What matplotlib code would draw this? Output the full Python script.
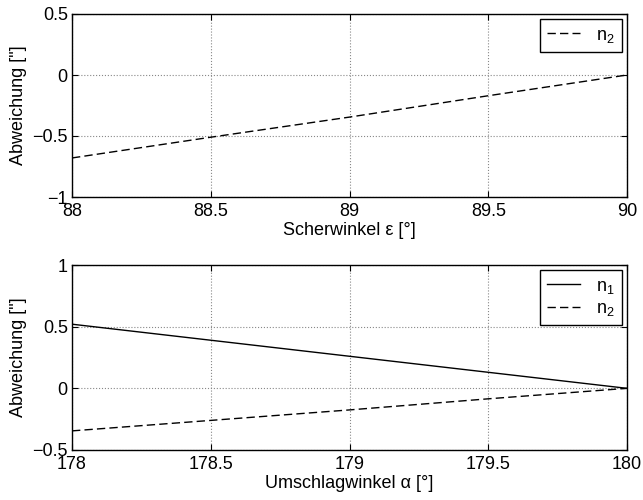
import numpy as np
import matplotlib
matplotlib.use("Agg")
import matplotlib.pyplot as plt

plt.rcParams['font.family'] = ['Liberation Sans', 'DejaVu Sans']
plt.rcParams['font.size'] = 13
plt.rcParams['mathtext.fontset'] = 'custom'
plt.rcParams['mathtext.rm'] = 'Liberation Sans'
plt.rcParams['mathtext.it'] = 'Liberation Sans'

# Scherwinkel epsilon vs. Abweichung (n2)
eps_deg = [88.0, 88.5, 89.0, 89.5, 90.0]
eps_n2 = [-0.68, -0.51, -0.345, -0.17, 0.0]

# Umschlagwinkel alpha vs. Abweichung (n1, n2)
alpha_deg = [178.0, 178.5, 179.0, 179.5, 180.0]
alpha_n1 = [0.52, 0.39, 0.26, 0.13, 0.0]
alpha_n2 = [-0.345, -0.26, -0.175, -0.085, 0.0]

fig = plt.figure(figsize=(6.43, 5.00), dpi=100)
ax1 = fig.add_axes([72/643, 1 - 197/500, (627-72)/643, (197-14)/500])
ax2 = fig.add_axes([72/643, 1 - 450/500, (627-72)/643, (450-265)/500])

dash = (0, (6, 3))


def style(ax):
    ax.grid(True, color='#888888', linestyle=':', linewidth=0.8)
    ax.tick_params(direction='in', top=True, right=True, length=4, width=0.8,
                   labelsize=13)
    ax.tick_params(axis='x', pad=4.5)
    ax.tick_params(axis='y', pad=3)
    for s in ax.spines.values():
        s.set_linewidth(1.0)
        s.set_color('black')
    ax.set_ylabel('Abweichung ["]', labelpad=4)


def legend(ax):
    leg = ax.legend(loc='upper right', fancybox=False, edgecolor='black',
                    handlelength=1.8, handletextpad=0.9, borderaxespad=0.3,
                    borderpad=0.4, labelspacing=0.25, framealpha=1)
    leg.get_frame().set_linewidth(1.0)


ax1.plot(eps_deg, eps_n2, color='black', linestyle=dash, linewidth=1.0,
         label='n$_{2}$')
ax1.set_xlim(88, 90)
ax1.set_ylim(-1, 0.5)
ax1.set_xticks([88, 88.5, 89, 89.5, 90])
ax1.set_xticklabels(['88', '88.5', '89', '89.5', '90'])
ax1.set_yticks([-1, -0.5, 0, 0.5])
ax1.set_yticklabels(['\u22121', '\u22120.5', '0', '0.5'])
ax1.set_xlabel('Scherwinkel \u03b5 [\u00b0]', labelpad=1)
style(ax1)
legend(ax1)

ax2.plot(alpha_deg, alpha_n1, color='black', linestyle='-', linewidth=1.0,
         label='n$_{1}$')
ax2.plot(alpha_deg, alpha_n2, color='black', linestyle=dash, linewidth=1.0,
         label='n$_{2}$')
ax2.set_xlim(178, 180)
ax2.set_ylim(-0.5, 1)
ax2.set_xticks([178, 178.5, 179, 179.5, 180])
ax2.set_xticklabels(['178', '178.5', '179', '179.5', '180'])
ax2.set_yticks([-0.5, 0, 0.5, 1])
ax2.set_yticklabels(['\u22120.5', '0', '0.5', '1'])
ax2.set_xlabel('Umschlagwinkel \u03b1 [\u00b0]', labelpad=1)
style(ax2)
legend(ax2)

fig.savefig('out.png', dpi=100)
